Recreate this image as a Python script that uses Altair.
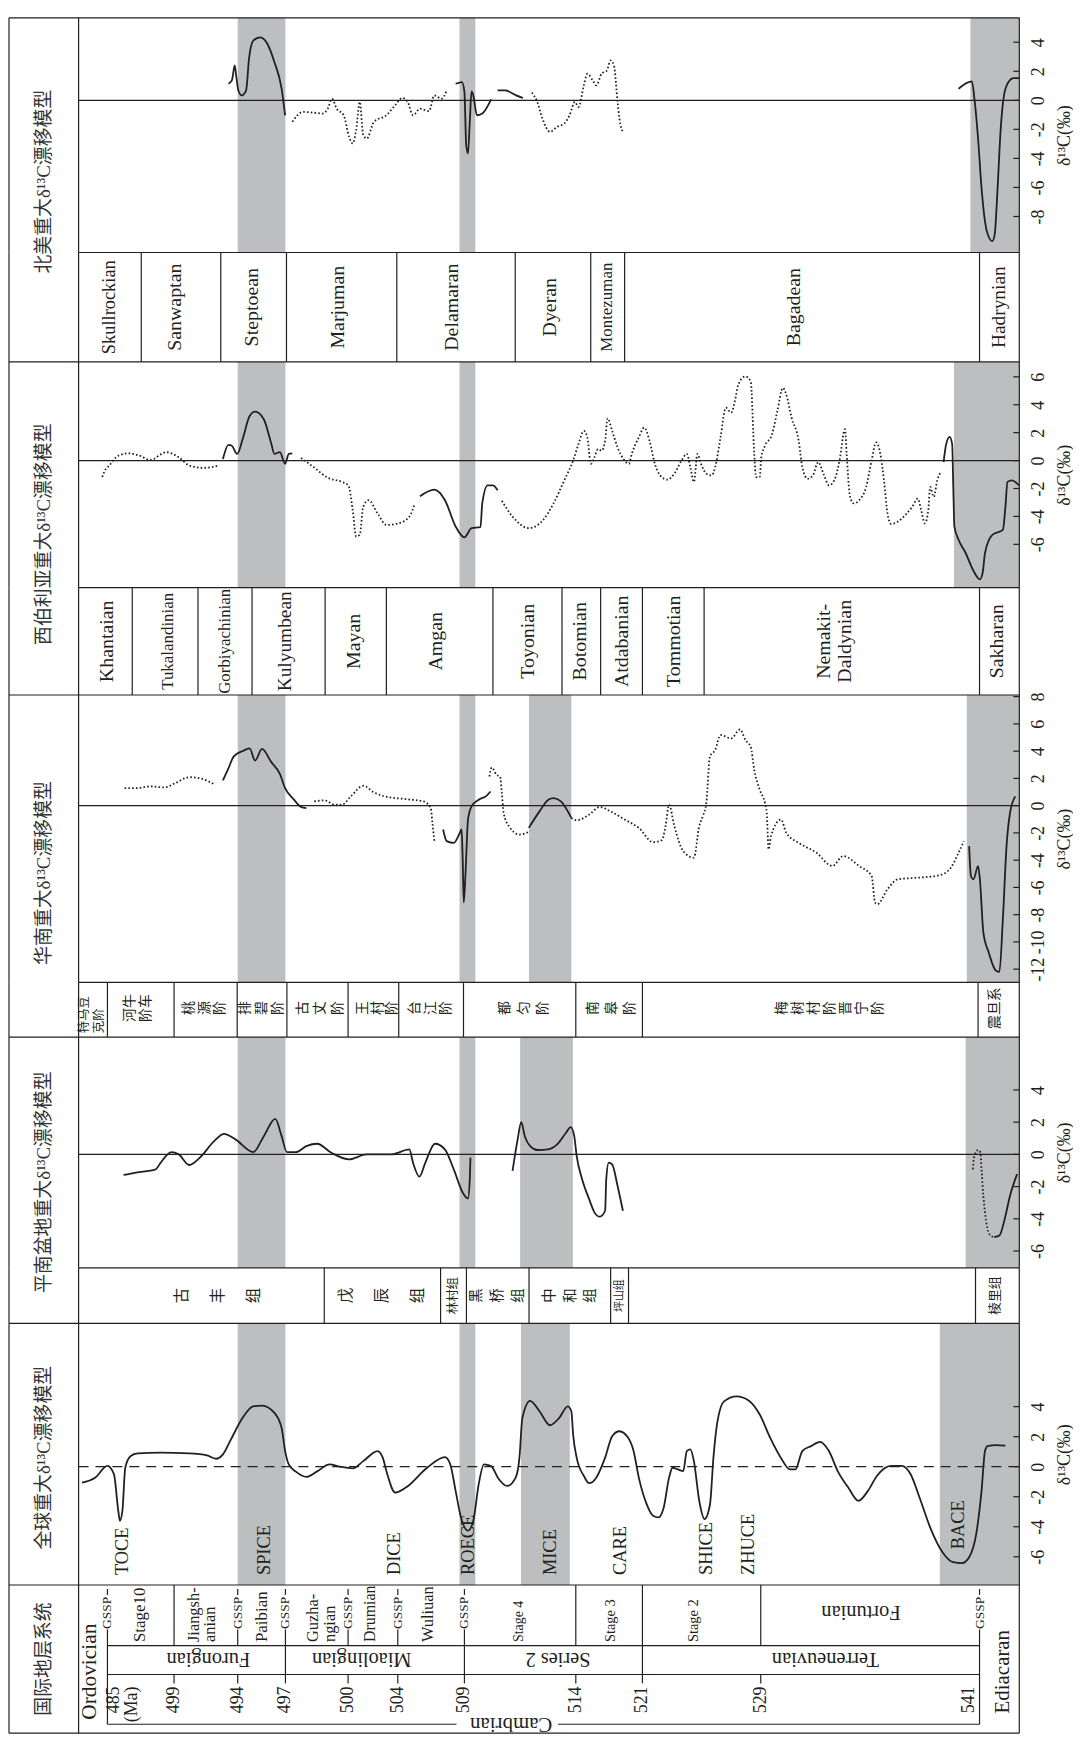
import altair as alt
import pandas as pd

# ------------------------------------------------------------------
# Time axis (Ma) - stratigraphic, piecewise scale as drawn in the figure.
# The first segment (479.09-483.27) is the title column on the left.
# ------------------------------------------------------------------
AGE_BREAKS = [479.09, 483.27, 485, 489, 494, 497, 500, 504, 509, 514, 521, 529, 541, 543.18]
AGE_POS = [0, 70, 99, 166, 230, 278, 341, 391, 458, 570, 637, 756, 976, 1016]
AGE_MIN = 479.09
AGE_PLOT0 = 483.27
AGE_MAX = 543.18
TICK_AGE = 542.85
TITLE_AGE = 481.18

VIEW_W = 1016
H_NA, H_NA_S = 236, 110
H_SIB, H_SIB_S = 227, 108
H_SC, H_SC_S = 289, 55
H_PN, H_PN_S = 232, 56
H_GL = 263
H_INTL = 149

TITLES = ["北美重大δ¹³C漂移模型", "西伯利亚重大δ¹³C漂移模型", "华南重大δ¹³C漂移模型",
          "平南盆地重大δ¹³C漂移模型", "全球重大δ¹³C漂移模型", "国际地层系统"]
TITLE_D = [-5.6, -5.27, -4.94, -1.73, 0.6]

Y_NA, T_NA = [-10.48, 5.68], [-8, -6, -4, -2, 0, 2, 4]
Y_SIB, T_SIB = [-9.1, 7.07], [-6, -4, -2, 0, 2, 4, 6]
Y_SC, T_SC = [-12.97, 8.12], [-12, -10, -8, -6, -4, -2, 0, 2, 4, 6, 8]
Y_PN, T_PN = [-7.04, 7.28], [-6, -4, -2, 0, 2, 4]
Y_GL, T_GL = [-7.88, 9.54], [-6, -4, -2, 0, 2, 4]

SPICE = (494.0, 497.0)
ROECE = (508.63, 509.49)
GREY_NA = [SPICE, ROECE, (540.5, AGE_MAX)]
GREY_SIB = [SPICE, ROECE, (539.6, AGE_MAX)]
GREY_SC = [SPICE, ROECE, (511.9, 513.8), (540.3, AGE_MAX)]
GREY_PN = [SPICE, ROECE, (511.5, 513.87), (540.24, AGE_MAX)]
GREY_GL = [SPICE, ROECE, (511.54, 513.73), (538.82, AGE_MAX)]

# ------------------------------------------------------------------
# delta13C curves (age in Ma, value in permil)
# ------------------------------------------------------------------
# North America
NA_A_AGE = [493.27, 493.54, 493.77, 493.88, 494.04, 494.26, 494.53, 494.71, 494.98, 495.42, 495.87, 496.31, 496.76, 496.98]
NA_A_D = [1.14, 1.37, 2.4, 1.71, 0.68, 0.34, 0.68, 2.85, 4.11, 4.34, 3.88, 2.62, 0.8, -1.03]
NA_B_AGE = [497.33, 497.84, 498.35, 498.77, 499.03, 499.23, 499.45, 499.79, 500.08, 500.37, 500.65, 500.94, 501.22,
            501.51, 502.08, 503.08, 503.79, 504.34, 504.74, 505.14, 505.67, 506.34, 506.74, 507.28, 507.67]
NA_B_D = [-1.48, -0.8, -0.85, -0.91, -0.57, 0.11, -0.57, -1.03, -2.51, -2.97, -2.05, -0.11, -2.4,
          -2.63, -1.48, -1.03, -0.34, 0.16, -0.11, -1.03, -0.57, -0.75, 0.34, 0.11, 0.68]
NA_C_AGE = [508.34, 508.82, 509.0, 509.08, 509.16, 509.24, 509.32, 509.4, 509.56, 509.8, 510.2]
NA_C_D = [1.14, 1.25, 0.57, -3.08, -3.65, -1.48, 0.62, 0.34, -1.03, -0.91, 0.07]
NA_D_AGE = [510.49, 510.83, 511.32, 511.63]
NA_D_D = [0.68, 0.68, 0.34, 0.16]
NA_E_AGE = [512.03, 512.27, 512.5, 512.84, 513.16, 513.48, 513.72, 513.96, 514.28, 514.85, 515.21, 515.78, 516.15,
            516.71, 517.27, 517.65, 518.01, 518.39, 518.58, 518.95]
NA_E_D = [0.53, -0.11, -1.25, -2.17, -1.83, -1.6, -1.03, -0.11, -0.46, 1.03, 1.83, 1.37, 1.03,
          1.83, 2.05, 2.74, 2.4, -0.11, -1.25, -2.17]
NA_F_AGE = [539.85, 540.58, 540.72, 540.92, 541.11, 541.4, 541.7, 541.83, 541.99, 542.15, 542.34, 542.58, 542.87, 543.16]
NA_F_D = [0.8, 1.3, 0.11, -2.63, -6.05, -9.02, -9.7, -9.25, -6.05, -2.17, 0.34, 1.25, 1.53, 1.53]

# Siberia
SIB_A_AGE = [484.69, 484.8, 485.11, 485.65, 486.29, 486.93, 487.57, 488.53, 489.36, 490.2, 491.31, 492.56]
SIB_A_D = [-1.18, -0.82, -0.35, 0.35, 0.52, 0.35, 0.05, 0.6, 0.24, -0.35, -0.52, -0.35]
SIB_B_AGE = [492.84, 493.27, 493.54, 493.96, 494.31, 494.75, 495.09, 495.64, 496.09, 496.31, 496.65, 496.98, 497.16, 497.33]
SIB_B_D = [0.12, 1.13, 1.06, 0.48, 1.54, 3.19, 3.5, 2.96, 1.3, 0.48, 0.6, -0.23, 0.48, 0.52]
SIB_C_AGE = [497.75, 498.35, 499.03, 499.71, 500.02, 500.37, 500.65, 500.94, 501.22, 501.65, 502.37, 503.08, 504.07, 504.87, 505.28]
SIB_C_D = [0.19, -0.47, -1.23, -1.53, -1.77, -3.55, -5.44, -5.32, -3.3, -2.84, -3.78, -4.61, -4.49, -4.01, -3.07]
SIB_D_AGE = [505.67, 506.74, 507.54, 508.34, 509.0, 509.32, 509.72, 509.8, 510.04, 510.28, 510.49]
SIB_D_D = [-2.55, -2.08, -2.84, -4.72, -5.5, -4.84, -4.77, -3.07, -1.77, -1.77, -2.13]
SIB_E_AGE = [510.68, 511.16, 511.89, 512.53, 513.0, 513.48, 513.88, 514.28, 514.85, 515.21, 515.59, 515.96, 516.34,
             516.71, 517.08, 517.34, 517.82, 518.39, 519.13, 519.58, 519.88, 520.62, 521.12, 521.48, 521.84, 522.2,
             522.68, 523.16, 523.64, 524.0, 524.24, 524.48, 524.72, 524.96, 525.32, 525.68, 525.92, 526.28, 526.64,
             527.0, 527.25, 527.48, 527.96, 528.32, 528.56, 528.68, 528.93, 529.03, 529.23, 529.62, 529.91, 530.21,
             530.4, 530.69, 531.08, 531.28, 531.57, 531.86, 532.15, 532.44, 532.74, 533.03, 533.32, 533.62, 533.71,
             533.9, 534.1, 534.4, 534.78, 535.08, 535.33, 535.56, 535.76, 535.95, 536.15, 536.53, 536.93, 537.31,
             537.61, 537.8, 538.0, 538.19, 538.29, 538.49, 538.68, 538.87]
SIB_E_D = [-2.88, -4.01, -4.84, -4.26, -3.07, -1.42, 0, 1.18, 2.13, 1.66, -0.23, 0.24, 0.83,
           0.71, 1.42, 3.03, 2.13, 0.95, 0, -0.23, 0.48, 1.66, 2.37, 1.42, -0.23, -1.06,
           -1.37, -0.94, 0, 0.48, -0.47, -1.53, 0.48, -0.23, -0.94, -1.06, -0.47, 1.66, 3.79,
           3.43, 4.26, 5.44, 6.03, 5.67, 0.48, -1.18, -1.18, 0.24, 1.06, 1.89, 3.55, 5.21,
           4.73, 3.08, 1.42, -0.47, -1.3, -1.06, -0.11, -0.94, -1.77, -1.42, 0, 2.25, 0.48,
           -2.6, -3.07, -2.84, -1.89, 0, 1.3, 0.48, -1.42, -3.78, -4.54, -4.37, -3.9, -3.31,
           -2.72, -3.55, -4.49, -3.55, -1.89, -2.6, -1.42, -0.82]
SIB_F_AGE = [539.03, 539.17, 539.36, 539.5, 539.56, 539.62, 539.85, 540.24, 540.63, 541.02, 541.17, 541.3, 541.7,
             542.28, 542.42, 542.53, 542.77, 543.16]
SIB_F_D = [-0.11, 1.18, 1.7, 1.18, -1.89, -4.72, -5.67, -6.62, -7.8, -8.51, -8.04, -6.62, -5.32,
           -4.96, -3.3, -1.53, -1.42, -1.77]

# South China
SC_A_AGE = [486.03, 486.71, 487.57, 488.42, 489.08, 490.2, 491.03, 491.73, 492.23]
SC_A_D = [1.28, 1.28, 1.41, 1.34, 1.65, 2.09, 2.01, 1.77, 1.53]
SC_B_AGE = [492.84, 493.27, 493.68, 494.31, 494.75, 495.09, 495.53, 496.09, 496.65, 496.98, 497.41, 497.75, 498.0]
SC_B_D = [1.85, 2.74, 3.6, 4.01, 4.2, 3.31, 4.16, 3.23, 2.33, 1.28, 0.44, -0.1, -0.18]
SC_C_AGE = [498.38, 498.86, 499.37, 499.71, 500.22, 501.22, 502.08, 502.94, 504.6, 505.94, 506.47, 506.6, 506.74]
SC_C_D = [0.31, 0.39, 0.07, 0.07, 0.68, 1.46, 0.97, 0.68, 0.48, 0.31, -0.18, -1.27, -2.6]
SC_D_AGE = [507.4, 507.67, 508.21, 508.6, 508.79, 508.87, 508.95, 509.05, 509.16, 509.32, 509.64, 509.96, 510.17]
SC_D_D = [-1.75, -2.6, -2.73, -2.12, -1.75, -3.94, -7.11, -4.92, -1.02, -0.05, 0.44, 0.68, 1.04]
SC_E_AGE = [510.12, 510.23, 510.44, 510.6, 510.68, 510.76, 511.0, 511.47, 511.95]
SC_E_D = [2.14, 2.8, 2.26, 2.14, 0.92, -0.54, -1.51, -2.12, -1.88]
SC_F_AGE = [511.89, 512.37, 512.77, 513.0, 513.33, 513.8]
SC_F_D = [-1.63, -0.42, 0.44, 0.55, 0.31, -0.9]
SC_G_AGE = [513.8, 514.09, 515.4, 516.52, 517.65, 519.13, 520.62, 521.72, 522.32, 522.56, 522.8, 523.16, 523.76,
            524.48, 524.84, 525.08, 525.32, 525.56, 525.92, 526.28, 527.0, 527.6, 527.96, 528.32, 528.56, 528.93,
            529.23, 529.33, 529.43, 529.56, 530.11, 530.4, 531.08, 532.06, 532.93, 533.52, 534.4, 535.08, 535.27,
            535.4, 535.95, 536.53, 537.71, 538.78, 539.36, 539.85, 540.14]
SC_G_D = [-0.9, -1.07, -0.66, -0.1, -0.42, -1.02, -1.63, -2.68, -2.53, -1.51, 0.07, -1.51, -3.34,
          -3.82, -1.51, -0.78, 0.19, 3.6, 4.09, 5.18, 4.93, 5.59, 4.82, 4.33, 2.63, 1.17,
          0.19, -0.54, -3.21, -2.24, -1.02, -2.0, -2.73, -3.46, -4.43, -3.7, -4.43, -5.16, -7.11,
          -7.23, -6.13, -5.4, -5.28, -5.11, -4.67, -3.46, -2.6]
SC_H_AGE = [540.43, 540.53, 540.67, 540.92, 541.02, 541.21, 541.5, 541.89, 542.09, 542.28, 542.48, 542.67, 542.96]
SC_H_D = [-2.97, -5.16, -5.4, -4.43, -5.4, -9.3, -10.76, -12.1, -12.2, -8.32, -2.97, -0.54, 0.68]

# Pingnan basin
PN_A_AGE = [485.97, 486.71, 487.89, 488.2, 488.84, 489.36, 490.2, 491.03, 492.15, 492.93, 493.82, 494.98, 495.64,
            496.36, 496.76, 497.07, 497.5, 498.0, 498.52, 499.2, 500.08, 501.5, 503.5, 504.87, 505.14, 505.62,
            506.07, 506.79, 507.53, 508.2, 508.87, 509.16, 509.24, 509.27]
PN_A_D = [-1.28, -1.13, -0.93, -0.51, 0.14, 0, -0.66, -0.2, 0.82, 1.27, 0.93, 0.14, 1.13,
          2.2, 1.13, 0.14, 0.14, 0.51, 0.66, 0.1, -0.31, 0, 0, 0.31, -0.51, -1.38,
          -0.51, 0.66, 0.31, -0.93, -2.37, -2.74, -1.54, -0.2]
PN_B_AGE = [511.16, 511.39, 511.55, 511.71, 511.95, 512.27, 512.75, 513.16, 513.56, 513.77, 513.93, 514.09, 514.66,
            515.4, 515.96, 516.52, 517.08, 517.2, 517.46, 517.82, 518.39, 518.95]
PN_B_D = [-1.03, 0.93, 2.0, 1.13, 0.51, 0.27, 0.31, 0.62, 1.34, 1.69, 1.13, -0.1, -1.54,
          -2.78, -3.6, -3.87, -3.5, -1.54, -0.51, -0.62, -1.96, -3.5]
PN_C_AGE = [540.63, 540.72, 540.92, 541.05, 541.11, 541.21, 541.37, 541.6, 541.8]
PN_C_D = [-0.93, -0.1, 0.27, 0.1, -0.93, -2.57, -4.22, -5.04, -5.14]
PN_D_AGE = [541.8, 542.09, 542.38, 542.67, 543.06]
PN_D_D = [-5.14, -5.04, -4.01, -2.57, -1.23]

# Global compilation
GL_AGE = [483.47, 484.26, 485.0, 485.39, 485.65, 485.75, 485.9, 486.07, 486.4, 486.82,
          488.2, 490.2, 491.59, 492.3, 492.84, 493.4, 494.3, 494.97, 495.53, 496.31,
          496.76, 496.98, 497.16, 497.5, 498.0, 498.5, 499.11, 499.6, 500.37, 501.22,
          502.37, 502.79, 503.08, 503.79, 504.6, 506.2, 507.54, 507.94, 508.34, 508.74,
          509.16, 509.4, 509.64, 509.88, 510.2, 510.5, 510.92, 511.3, 511.47, 511.6,
          511.95, 512.37, 512.84, 513.25, 513.64, 513.8, 513.88, 514.09, 514.85, 515.4,
          516.15, 517.08, 517.82, 518.58, 519.5, 520.07, 520.62, 521.24, 521.72, 522.08,
          522.44, 522.8, 523.04, 523.4, 523.76, 524.0, 524.24, 524.48, 524.84, 525.2,
          525.57, 525.8, 526.04, 526.52, 527.36, 528.2, 528.94, 529.52, 530.1, 530.6,
          530.9, 531.28, 531.76, 532.25, 532.74, 533.22, 533.8, 534.36, 534.88, 535.37,
          536.15, 536.73, 537.22, 537.71, 538.29, 538.97, 539.55, 540.04, 540.43, 540.82,
          541.11, 541.3, 541.44, 541.9, 542.42]
GL_D = [-1.06, -0.73, 0.05, -0.5, -2.93, -3.6, -2.93, -0.07, 0.71, 0.88,
        0.93, 0.88, 0.75, 0.53, 0.82, 1.7, 3.24, 4.02, 4.07, 3.58,
        2.58, 1.04, 0.15, -0.33, -0.68, -0.33, 0.15, 0, -0.11, 0.37,
        1.04, 0.6, -0.29, -1.72, -1.39, -0.07, 0.64, 0.15, -1.61, -3.38,
        -4.26, -3.6, -1.17, 0.15, 0.04, -0.73, -1.28, -0.73, 0.6, 3.24,
        4.39, 3.69, 2.76, 3.24, 4.02, 3.69, 2.14, 0.6, -0.62, -1.1,
        -0.73, 0.6, 2.03, 2.36, 1.92, 1.04, -0.73, -2.38, -3.27, -3.38,
        -2.72, -0.73, -0.07, -0.18, -0.29, 1.04, 1.15, 0.37, -2.27, -3.49,
        -2.5, 0.6, 2.8, 4.35, 4.68, 4.39, 3.46, 1.92, 0.6, -0.18,
        -0.18, 1.04, 1.37, 1.66, 1.04, -0.29, -1.39, -2.27, -1.61, -0.62,
        0.05, 0.05, -0.5, -2.05, -4.04, -5.7, -6.36, -6.42, -6.03, -4.48,
        -1.61, 1.04, 1.37, 1.44, 1.4]

EVENT_NAMES = ["TOCE", "SPICE", "DICE", "ROECE", "MICE", "CARE", "SHICE", "ZHUCE", "BACE"]
EVENT_AGE = [485.86, 495.63, 503.7, 509.16, 512.83, 518.6, 525.3, 528.15, 539.8]
EVENT_BASE = [-7.22, -7.22, -7.22, -7.22, -7.22, -7.22, -7.22, -7.22, -5.5]

# ------------------------------------------------------------------
# Regional stage columns
# ------------------------------------------------------------------
NA_BOUNDS = [487.03, 492.67, 497.05, 503.92, 511.28, 515.57, 519.13, 541.0]
NA_NAMES = ["Skullrockian", "Sanwaptan", "Steptoean", "Marjuman", "Delamaran", "Dyeran", "Montezuman", "Bagadean", "Hadrynian"]
NA_NAME_AGE = [485.12, 489.08, 494.88, 499.52, 508.1, 512.84, 517.24, 530.8, 542.09]
NA_NAME_SIZE = [18.5, 20, 20, 20, 20, 20, 17, 20, 19.5]

SIB_BOUNDS = [486.49, 490.88, 494.9, 498.9, 503.08, 510.28, 513.38, 516.61, 521.0, 525.17, 541.0]
SIB_NAMES = ["Khantaian", "Tukalandinian", "Gorbiyachinian", "Kulyumbean", "Mayan", "Amgan", "Toyonian",
             "Botomian", "Atdabanian", "Tommotian", "Nemakit-\nDaldynian", "Sakharan"]
SIB_NAME_AGE = [485.0, 488.64, 493.0, 497.0, 500.48, 506.84, 511.86, 514.47, 518.81, 523.15, 533.04, 541.98]
SIB_NAME_SIZE = [20, 17, 17, 19.5, 20, 20, 20, 20, 20, 20, 20, 20]

SC_BOUNDS = [485, 489, 493.96, 497.07, 500, 504.07, 508.93, 514, 521, 540.92]
SC_NAMES = ["特马豆\n克阶", "河牛\n阶车", "桃\n源\n阶", "排\n碧\n阶", "古\n丈\n阶", "王\n村\n阶", "台\n江\n阶",
            "都\n匀\n阶", "南\n皋\n阶", "梅\n树\n村\n阶\n \n晋\n宁\n阶", "震旦系"]
SC_NAME_AGE = [484.04, 486.82, 491.42, 495.5, 498.67, 502.4, 506.46, 511.68, 517.76, 533.23, 541.87]
SC_NAME_LH = [15, 16, 15.5, 17, 17.5, 14.5, 16, 19, 19, 16, 0]

PN_BOUNDS = [498.86, 507.21, 509.09, 511.9, 517.66, 519.54, 540.78]
PN_NAMES = ["古\n丰\n组", "戊\n辰\n组", "林村组", "黑\n桥\n组", "中\n和\n组", "坪山组", "棱里组"]
PN_NAME_AGE = [492.44, 502.72, 508.18, 510.52, 513.78, 518.6, 541.87]
PN_NAME_SIZE = [15.5, 15.5, 12.5, 14.5, 14.5, 11, 13]
PN_NAME_LH = [36, 36.5, 0, 21, 20.5, 0, 0]

# International chronostratigraphy
INTL_STAGES = ["Stage10", "Jiangsh-\nanian", "Paibian", "Guzha-\nngian", "Drumian", "Wuliuan", "Stage 4", "Stage 3", "Stage 2"]
INTL_STAGE_AGE = [486.97, 491.2, 495.5, 498.71, 501.76, 506.24, 511.46, 517.66, 524.5]
INTL_STAGE_SIZE = [17, 16.5, 17, 16.5, 16, 16.5, 14, 14.5, 14.5]
INTL_SERIES = ["Furongian", "Miaolingian", "Series 2", "Terreneuvian"]
INTL_SERIES_AGE = [491.7, 501.1, 513.2, 532.55]
INTL_MA_TEXT = ["499", "494", "497", "500", "504", "509", "514", "521", "529", "541"]
INTL_MA_AGE = [489, 494, 497, 500, 504, 509, 514, 521, 529, 540.4]
GSSP_AGE = [485, 494, 497, 500, 504, 509, 541]

INK = "#231f20"
GREY = "#bcbec0"
SERIF = "Liberation Serif"
MIX = "Liberation Serif, Noto Sans CJK SC"


def xs():
    return alt.Scale(domain=AGE_BREAKS, range=AGE_POS, zero=False, nice=False)


def fs():
    return alt.Scale(domain=[0, 1], reverse=True, zero=False, nice=False)


def X(field="age"):
    return alt.X(f"{field}:Q", scale=xs(), axis=None)


def FY(field="f"):
    return alt.Y(f"{field}:Q", scale=fs(), axis=None)


def label_layers(labels, yenc=None):
    groups = {}
    for L in labels:
        n = L["text"].count("\n") + 1
        key = (L.get("size", 16), L.get("angle", 270), L.get("align", "center"),
               L.get("baseline", "middle"), L.get("lh", 0), L.get("font", SERIF), L.get("color", INK), n)
        groups.setdefault(key, []).append(L)
    out = []
    for (size, angle, align, baseline, lh, font, color, n), items in groups.items():
        df = pd.DataFrame({"age": [i["age"] for i in items],
                           "f": [i.get("f", 0.5) for i in items],
                           "t": [i["text"] for i in items]})
        kw = dict(angle=angle, align=align, baseline=baseline, fontSize=size, font=font,
                  color=color, lineBreak="\n")
        if lh:
            kw["lineHeight"] = lh
        if n > 1 and lh:
            kw["dy"] = -(n - 1) * lh / 2.0   # centre the block of lines on its anchor
        out.append(alt.Chart(df).mark_text(**kw).encode(
            x=X(), y=yenc if yenc is not None else FY(), text="t:N"))
    return out


def frame_layers(yenc, ytop, full_top=True, ybottom=None):
    """vertical frame lines (left edge, title column edge, right edge) + top line"""
    vdf = pd.DataFrame({"age": [AGE_MIN, AGE_PLOT0, AGE_MAX]})
    out = [alt.Chart(vdf).mark_rule(color=INK, strokeWidth=1.2).encode(x=X())]
    tops = [ytop] + ([ybottom] if ybottom is not None else [])
    hdf = pd.DataFrame({"a0": [AGE_MIN if full_top else AGE_PLOT0] + [AGE_MIN] * (len(tops) - 1),
                        "a1": [AGE_MAX] * len(tops), "f": tops})
    out.append(alt.Chart(hdf).mark_rule(color=INK, strokeWidth=1.2).encode(x=X("a0"), x2="a1", y=yenc))
    return out


def curve_panel(segs, ydom, yticks, h, greys, title, title_d, zero_dash=None, events=None):
    rows = []
    for i, (style, ages, vals) in enumerate(segs):
        assert len(ages) == len(vals), (i, len(ages), len(vals))
        for a, v in zip(ages, vals):
            rows.append(dict(seg=i, style=style, age=a, d=v))
    df = pd.DataFrame(rows)
    yaxis = alt.Axis(orient="right", values=yticks, ticks=False, domain=False, grid=False,
                     labelAngle=270, labelAlign="center", labelBaseline="top", labelPadding=10,
                     labelFont=SERIF, labelFontSize=18, labelColor=INK, labelFlush=False,
                     labelOverlap=False, labelExpr="'' + datum.value",
                     title="δ¹³C(‰)", titleAngle=270, titleFont=SERIF, titleFontSize=18,
                     titleFontWeight="normal", titleColor=INK, titlePadding=8,
                     titleBaseline="top", titleAlign="center")
    yscale = alt.Scale(domain=ydom, zero=False, nice=False)
    Y = alt.Y("d:Q", scale=yscale, axis=yaxis)
    YF = alt.Y("f:Q", scale=yscale, axis=yaxis)
    gdf = pd.DataFrame({"a0": [g[0] for g in greys], "a1": [g[1] for g in greys]})
    layers = [alt.Chart(gdf).mark_rect(color=GREY).encode(x=X("a0"), x2="a1")]
    zkw = dict(color=INK, strokeWidth=1.3)
    if zero_dash:
        zkw["strokeDash"] = zero_dash
    layers.append(alt.Chart(pd.DataFrame({"d": [0], "a0": [AGE_PLOT0], "a1": [AGE_MAX]}))
                  .mark_rule(**zkw).encode(x=X("a0"), x2="a1", y=Y))
    tv = [t for t in yticks if ydom[0] <= t <= ydom[1]]
    tdf = pd.DataFrame({"d": tv, "a0": [TICK_AGE] * len(tv), "a1": [AGE_MAX] * len(tv)})
    layers.append(alt.Chart(tdf).mark_rule(color=INK, strokeWidth=1.2).encode(x=X("a0"), x2="a1", y=Y))
    layers += frame_layers(YF, ydom[1], full_top=True)
    sol = df[df["style"] == "solid"]
    dot = df[df["style"] == "dotted"]
    if len(sol):
        layers.append(alt.Chart(sol).mark_line(color=INK, strokeWidth=1.8, interpolate="monotone")
                      .encode(x=X(), y=Y, detail="seg:N"))
    if len(dot):
        layers.append(alt.Chart(dot).mark_line(color=INK, strokeWidth=1.8, interpolate="monotone",
                                               strokeDash=[1.6, 2.2])
                      .encode(x=X(), y=Y, detail="seg:N"))
    if events:
        edf = pd.DataFrame({"age": events[0], "d": events[2], "t": events[1]})
        layers.append(alt.Chart(edf).mark_text(angle=270, align="left", baseline="middle", font=SERIF,
                                               fontSize=18.5, color=INK)
                      .encode(x=X(), y=Y, text="t:N"))
    layers += label_layers([dict(age=TITLE_AGE, f=title_d, text=title, size=19, font=MIX, color="#333333")],
                           yenc=YF)
    return alt.layer(*layers).properties(width=VIEW_W, height=h)


def strat_panel(h, bounds, labels):
    div = alt.Chart(pd.DataFrame({"age": bounds})).mark_rule(color=INK, strokeWidth=1.2).encode(x=X())
    return alt.layer(div, *frame_layers(FY(), 0.0, full_top=False), *label_layers(labels)
                     ).properties(width=VIEW_W, height=h)


# ---------------- curve panels ----------------
na_curve = curve_panel([("solid", NA_A_AGE, NA_A_D), ("dotted", NA_B_AGE, NA_B_D), ("solid", NA_C_AGE, NA_C_D),
                        ("solid", NA_D_AGE, NA_D_D), ("dotted", NA_E_AGE, NA_E_D), ("solid", NA_F_AGE, NA_F_D)],
                       Y_NA, T_NA, H_NA, GREY_NA, TITLES[0], TITLE_D[0])
sib_curve = curve_panel([("dotted", SIB_A_AGE, SIB_A_D), ("solid", SIB_B_AGE, SIB_B_D), ("dotted", SIB_C_AGE, SIB_C_D),
                         ("solid", SIB_D_AGE, SIB_D_D), ("dotted", SIB_E_AGE, SIB_E_D), ("solid", SIB_F_AGE, SIB_F_D)],
                        Y_SIB, T_SIB, H_SIB, GREY_SIB, TITLES[1], TITLE_D[1])
sc_curve = curve_panel([("dotted", SC_A_AGE, SC_A_D), ("solid", SC_B_AGE, SC_B_D), ("dotted", SC_C_AGE, SC_C_D),
                        ("solid", SC_D_AGE, SC_D_D), ("dotted", SC_E_AGE, SC_E_D), ("solid", SC_F_AGE, SC_F_D),
                        ("dotted", SC_G_AGE, SC_G_D), ("solid", SC_H_AGE, SC_H_D)],
                       Y_SC, T_SC, H_SC, GREY_SC, TITLES[2], TITLE_D[2])
pn_curve = curve_panel([("solid", PN_A_AGE, PN_A_D), ("solid", PN_B_AGE, PN_B_D), ("dotted", PN_C_AGE, PN_C_D),
                        ("solid", PN_D_AGE, PN_D_D)],
                       Y_PN, T_PN, H_PN, GREY_PN, TITLES[3], TITLE_D[3])
gl_curve = curve_panel([("solid", GL_AGE, GL_D)], Y_GL, T_GL, H_GL, GREY_GL, TITLES[4], TITLE_D[4],
                       zero_dash=[10, 7], events=(EVENT_AGE, EVENT_NAMES, EVENT_BASE))

# ---------------- stage columns ----------------
na_strat = strat_panel(H_NA_S, NA_BOUNDS, [dict(age=a, text=t, size=s) for a, t, s in zip(NA_NAME_AGE, NA_NAMES, NA_NAME_SIZE)])
sib_strat = strat_panel(H_SIB_S, SIB_BOUNDS, [dict(age=a, text=t, size=s, lh=21) for a, t, s in zip(SIB_NAME_AGE, SIB_NAMES, SIB_NAME_SIZE)])

sc_labels = []
for a, t, lh in zip(SC_NAME_AGE, SC_NAMES, SC_NAME_LH):
    d = dict(age=a, text=t, size=14, lh=lh, font=MIX, f=0.47)
    if t.startswith("特"):
        d.update(align="left", f=0.93, size=12.5)
    sc_labels.append(d)
sc_strat = strat_panel(H_SC_S, SC_BOUNDS, sc_labels)

pn_strat = strat_panel(H_PN_S, PN_BOUNDS, [dict(age=a, text=t, size=s, lh=lh, font=MIX)
                                          for a, t, s, lh in zip(PN_NAME_AGE, PN_NAMES, PN_NAME_SIZE, PN_NAME_LH)])

# ---------------- international column ----------------
F_STAGE, F_SERIES, F_TICK, F_BRACKET, F_GSSP = 0.409, 0.604, 0.664, 0.94, 0.30
vl = []
for a in GSSP_AGE:
    vl.append((a, 0.027, 0.067))
vl += [(485, F_GSSP, F_BRACKET), (541, F_GSSP, F_BRACKET),
       (489, 0.0, F_STAGE), (494, F_GSSP, F_STAGE), (497, F_GSSP, F_TICK), (500, F_GSSP, F_STAGE),
       (504, F_GSSP, F_STAGE), (509, F_GSSP, F_TICK), (514, 0.0, F_STAGE), (521, 0.0, F_TICK),
       (529, 0.0, F_STAGE)]
for a in [489, 494, 500, 504, 514, 529]:
    vl.append((a, F_SERIES, F_TICK))
vdf = pd.DataFrame({"age": [v[0] for v in vl], "f0": [v[1] for v in vl], "f1": [v[2] for v in vl]})
hl = [(485, 541, F_STAGE), (485, 541, F_SERIES), (485, 508.4, F_BRACKET), (513.2, 541, F_BRACKET)]
hdf = pd.DataFrame({"a0": [h[0] for h in hl], "a1": [h[1] for h in hl], "f": [h[2] for h in hl]})
intl_layers = [
    alt.Chart(vdf).mark_rule(color=INK, strokeWidth=1.2).encode(x=X(), y=FY("f0"), y2="f1"),
    alt.Chart(hdf).mark_rule(color=INK, strokeWidth=1.2).encode(x=X("a0"), x2="a1", y=FY()),
]
intl_layers += frame_layers(FY(), 0.0, full_top=True, ybottom=1.0)
intl_labels = []
intl_labels += [dict(age=a, text="GSSP", size=13.5, align="right", f=0.08) for a in GSSP_AGE]
intl_labels += [dict(age=a, text=t, size=18, align="right", f=0.685) for a, t in zip(INTL_MA_AGE, INTL_MA_TEXT)]
intl_labels.append(dict(age=485.96, text="485\n(Ma)", size=18, align="right", f=0.685, lh=18))
intl_labels += [dict(age=a, text=t, size=s, align="left", f=0.385, lh=17)
                for a, t, s in zip(INTL_STAGE_AGE, INTL_STAGES, INTL_STAGE_SIZE)]
intl_labels.append(dict(age=534.5, text="Fortunian", size=20.5, angle=180, f=0.18))
intl_labels += [dict(age=a, text=t, size=20.5, angle=180, f=0.5) for a, t in zip(INTL_SERIES_AGE, INTL_SERIES)]
intl_labels.append(dict(age=511.1, text="Cambrian", size=21, angle=180, f=0.935))
intl_labels.append(dict(age=483.93, text="Ordovician", size=21.5, f=0.585))
intl_labels.append(dict(age=542.28, text="Ediacaran", size=21, f=0.585))
intl_labels.append(dict(age=TITLE_AGE, text=TITLES[5], size=19, font=MIX, color="#333333", f=0.5))
intl = alt.layer(*intl_layers, *label_layers(intl_labels)).properties(width=VIEW_W, height=H_INTL)

chart = alt.vconcat(na_curve, na_strat, sib_curve, sib_strat, sc_curve, sc_strat,
                    pn_curve, pn_strat, gl_curve, intl,
                    spacing=0, bounds="flush",
                    padding={"left": 0, "top": 4, "right": 0, "bottom": 0}
                    ).configure_view(strokeWidth=0)

chart.save("out.html", embed_options={"renderer": "svg", "actions": False})
